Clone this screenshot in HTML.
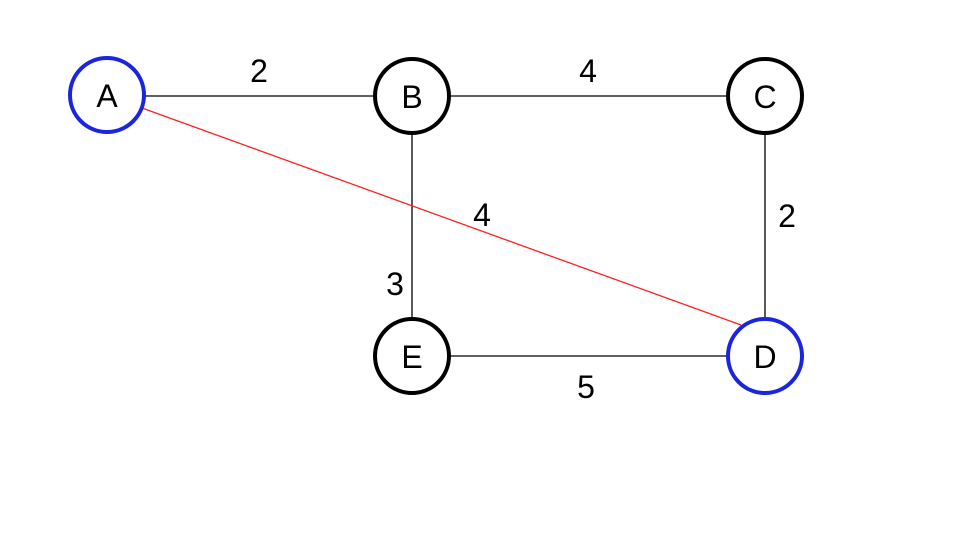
<!DOCTYPE html>
<html><head><meta charset="utf-8"><style>body{margin:0;background:#fff}svg{display:block}</style></head><body>
<svg width="954" height="556" xmlns="http://www.w3.org/2000/svg" font-family="Liberation Sans, sans-serif">
<rect width="954" height="556" fill="#fff"/>
<g stroke="#000" stroke-width="1.3">
<line x1="144" y1="96" x2="374" y2="96"/>
<line x1="450" y1="96" x2="727" y2="96"/>
<line x1="412" y1="133" x2="412" y2="318"/>
<line x1="765" y1="133" x2="765" y2="318"/>
<line x1="450" y1="356" x2="727" y2="356"/>
</g>
<line x1="142" y1="108" x2="741" y2="325" stroke="#ff2020" stroke-width="1.3"/>
<g fill="#fff" stroke-width="4">
<circle cx="107" cy="95" r="37" stroke="#1a25e0"/>
<circle cx="412" cy="96" r="37" stroke="#000"/>
<circle cx="765" cy="96" r="37" stroke="#000"/>
<circle cx="412" cy="356" r="37" stroke="#000"/>
<circle cx="765" cy="356" r="37" stroke="#1a25e0"/>
</g>
<g font-size="32" text-anchor="middle" fill="#000">
<text x="107" y="107">A</text>
<text x="412" y="108">B</text>
<text x="765" y="108">C</text>
<text x="412" y="368">E</text>
<text x="765" y="368">D</text>
<text x="259" y="82">2</text>
<text x="588" y="82">4</text>
<text x="482" y="226">4</text>
<text x="787" y="227">2</text>
<text x="395" y="295">3</text>
<text x="586" y="398">5</text>
</g>
</svg>
</body></html>
